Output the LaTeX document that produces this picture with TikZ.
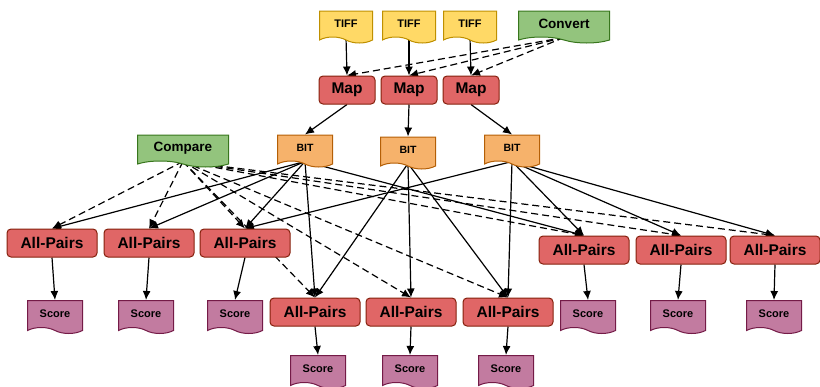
\documentclass[tikz,border=0pt]{standalone}
\usepackage{fontspec}
\setmainfont{Liberation Sans}
\usetikzlibrary{shapes.symbols,arrows.meta,backgrounds}

\definecolor{tifffill}{HTML}{FFD966}
\definecolor{tiffline}{HTML}{BF9000}
\definecolor{greenfill}{HTML}{93C47D}
\definecolor{greenline}{HTML}{38761D}
\definecolor{redfill}{HTML}{E06666}
\definecolor{redline}{HTML}{85200C}
\definecolor{bitfill}{HTML}{F6B26B}
\definecolor{bitline}{HTML}{B45F06}
\definecolor{scorefill}{HTML}{C27BA0}
\definecolor{scoreline}{HTML}{741B47}

\tikzset{
  doc/.style={tape, tape bend top=none, tape bend bottom=out and in,
    tape bend height=6pt, line width=1pt, inner sep=0pt},
  tiff/.style={doc, fill=tifffill, draw=tiffline, minimum width=53pt,
    minimum height=32pt, font=\bfseries\fontsize{11}{11}\selectfont},
  tool/.style={doc, fill=greenfill, draw=greenline, minimum width=91pt,
    minimum height=32pt, font=\bfseries\fontsize{13.5}{13.5}\selectfont},
  bit/.style={doc, fill=bitfill, draw=bitline, minimum width=55pt,
    minimum height=32pt, font=\bfseries\fontsize{10.5}{10.5}\selectfont},
  score/.style={doc, fill=scorefill, draw=scoreline, minimum width=55pt,
    minimum height=33pt, font=\bfseries\fontsize{11}{11}\selectfont},
  proc/.style={rectangle, rounded corners=4pt, fill=redfill, draw=redline,
    line width=1pt, inner sep=0pt, minimum height=28pt,
    font=\bfseries\fontsize{15.5}{15.5}\selectfont},
  mapbox/.style={proc, minimum width=56pt},
  pairbox/.style={proc, minimum width=90pt},
  link/.style={-{Latex[length=9pt,width=8pt]}, line width=1.2pt},
  dlink/.style={link, dash pattern=on 7pt off 4pt},
}

\begin{document}
\begin{tikzpicture}[x=1pt,y=-1pt]
  \useasboundingbox (0,0) rectangle (820,386);

  \node[tiff] (tiff1) at (346,24) {TIFF};
  \node[tiff] (tiff2) at (409,24) {TIFF};
  \node[tiff] (tiff3) at (470,24) {TIFF};
  \node[tool] (convert) at (564,24) {Convert};

  \node[mapbox] (map1) at (347,90) {Map};
  \node[mapbox] (map2) at (409,90) {Map};
  \node[mapbox] (map3) at (471,90) {Map};

  \node[tool] (compare) at (183,148) {Compare};
  \node[bit] (bit1) at (305,148) {BIT};
  \node[bit] (bit2) at (408,150) {BIT};
  \node[bit] (bit3) at (512,148) {BIT};

  \node[pairbox] (ap1) at (52,243) {All-Pairs};
  \node[pairbox] (ap2) at (149,243) {All-Pairs};
  \node[pairbox] (ap3) at (245,243) {All-Pairs};
  \node[pairbox] (ap4) at (584,250) {All-Pairs};
  \node[pairbox] (ap5) at (681,250) {All-Pairs};
  \node[pairbox] (ap6) at (775,250) {All-Pairs};
  \node[pairbox] (ap7) at (315,312) {All-Pairs};
  \node[pairbox] (ap8) at (411,312) {All-Pairs};
  \node[pairbox] (ap9) at (508,312) {All-Pairs};

  \node[score] (sc1) at (55,314) {Score};
  \node[score] (sc2) at (146,314) {Score};
  \node[score] (sc3) at (235,314) {Score};
  \node[score] (sc4) at (588,314) {Score};
  \node[score] (sc5) at (678,314) {Score};
  \node[score] (sc6) at (774,314) {Score};
  \node[score] (sc7) at (318,369) {Score};
  \node[score] (sc8) at (410,369) {Score};
  \node[score] (sc9) at (506,369) {Score};

  \begin{scope}[on background layer]
    \foreach \i in {1,2,3} {
      \draw[link] (tiff\i.south) -- (map\i.north);
      \draw[dlink] (convert.south) -- (map\i.north);
      \draw[link] (map\i.south) -- (bit\i.north);
    }
    \foreach \j in {1,2,3,7,4}
      \draw[link] (bit1.south) -- (ap\j.north);
    \foreach \j in {7,8,9}
      \draw[link] (bit2.south) -- (ap\j.north);
    \foreach \j in {3,9,4,5,6}
      \draw[link] (bit3.south) -- (ap\j.north);
    \foreach \j in {1,...,9} {
      \draw[dlink] (compare.south) -- (ap\j.north);
      \draw[link] (ap\j.south) -- (sc\j.north);
    }
  \end{scope}
\end{tikzpicture}
\end{document}
